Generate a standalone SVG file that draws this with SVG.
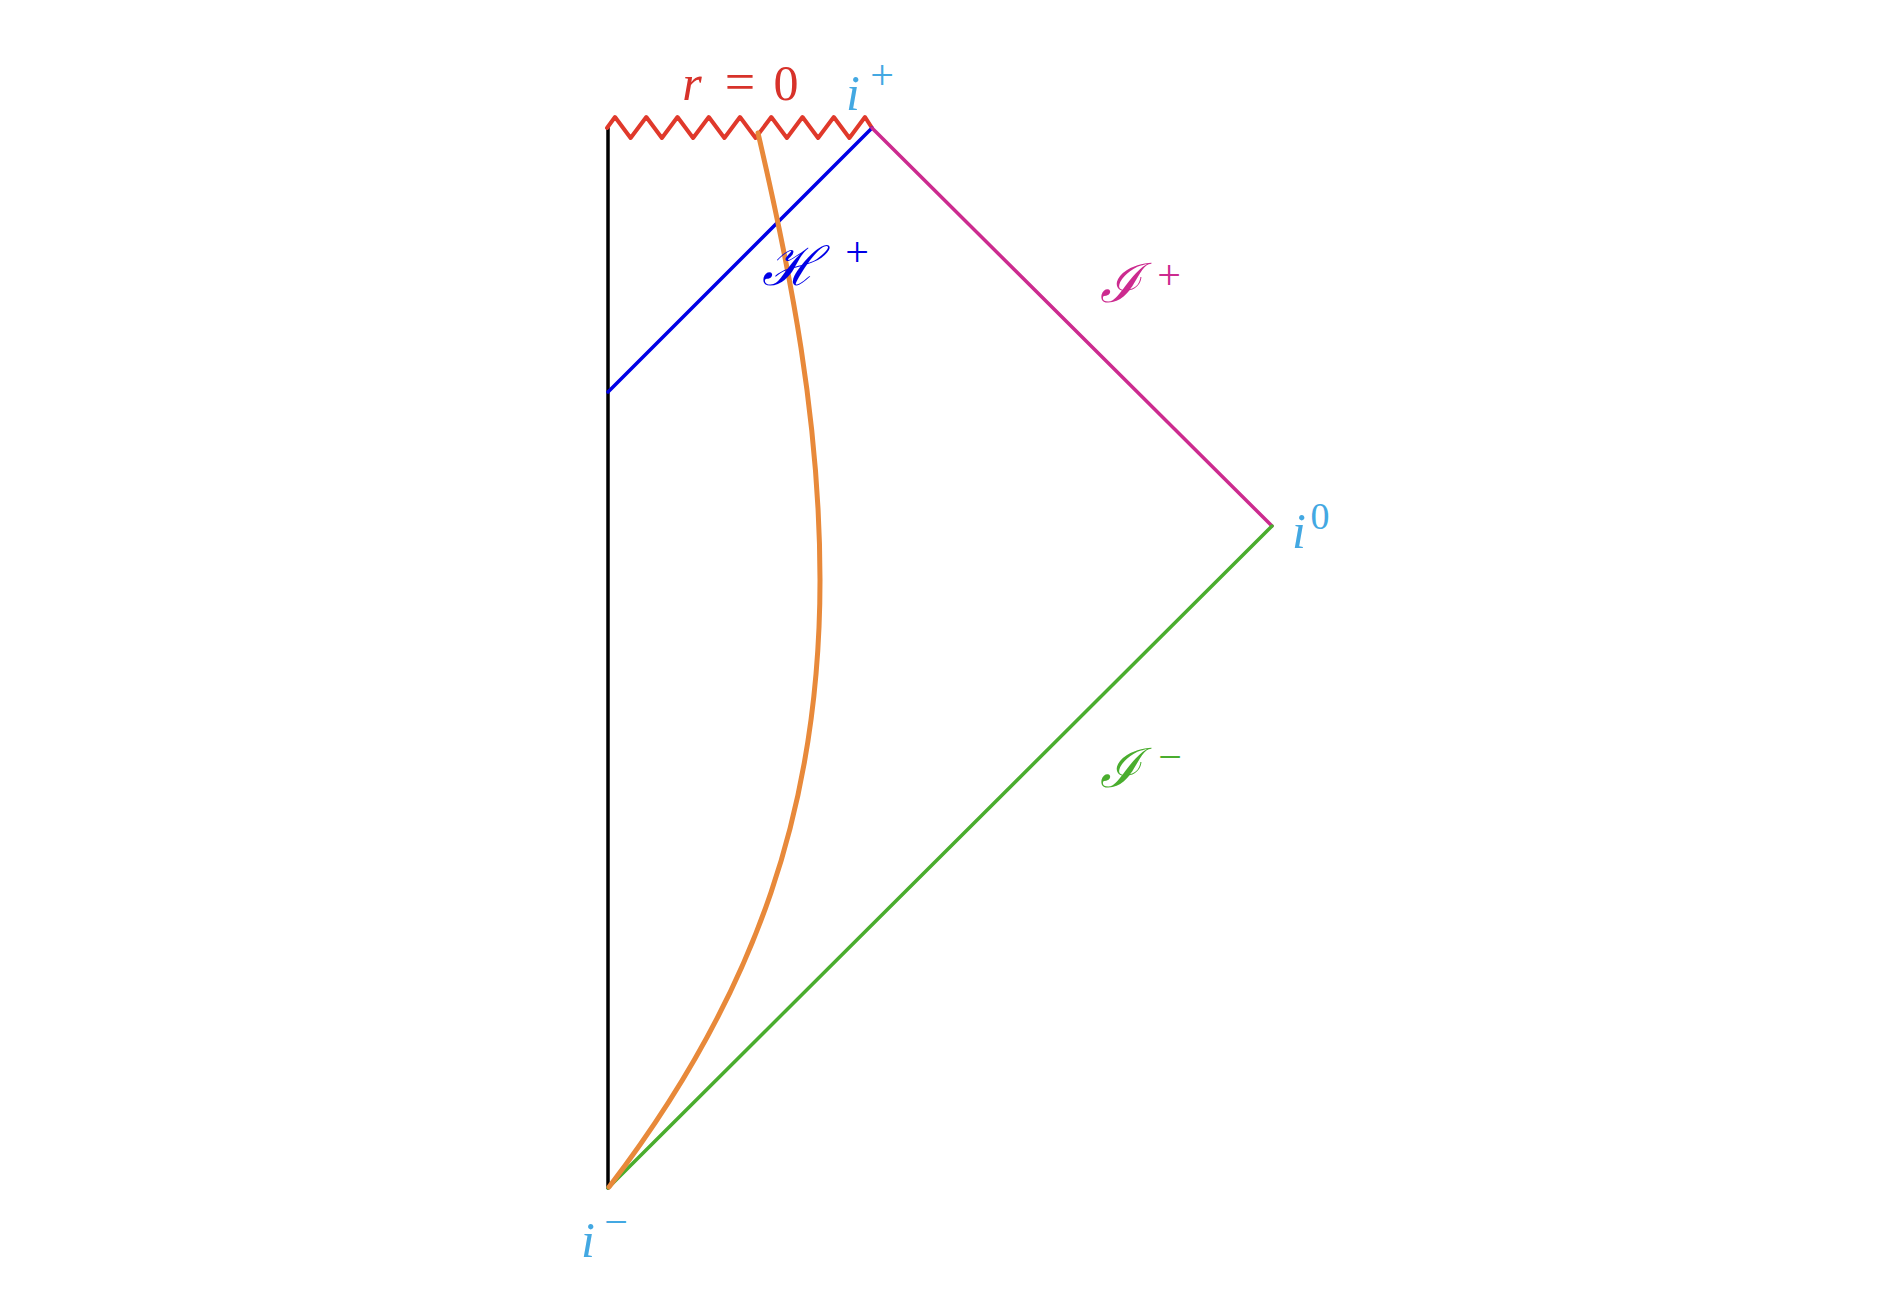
<svg xmlns="http://www.w3.org/2000/svg" width="1898" height="1303" viewBox="0 0 1898 1303">
<style>
.ln{fill:none;stroke-linecap:round;stroke-linejoin:round}
.t{font-family:"Liberation Serif","DejaVu Serif",serif;text-anchor:middle}
.it{font-style:italic}
.sc{font-family:"DejaVu Serif","Liberation Serif",serif;font-style:italic;text-anchor:middle}
.lb{fill:#43a8e2}
</style>
<rect width="1898" height="1303" fill="#ffffff"/>
<g id="connectors">
<line id="center" class="ln" x1="608" y1="128" x2="608" y2="1188" stroke="#000000" stroke-width="3.5"/>
<polyline id="singularity" class="ln" stroke="#e0392b" stroke-width="4" points="607,128 615,117 630.6,138 646.3,117 661.9,138 677.5,117 693.1,138 708.8,117 724.4,138 740,117 755.6,138 771.3,117 786.9,138 802.5,117 818.1,138 833.8,117 849.4,138 865,117 872,128"/>
<line id="horizon" class="ln" x1="608" y1="392" x2="872" y2="128" stroke="#0000e6" stroke-width="3.5"/>
<line id="scri-plus" class="ln" x1="872" y1="128" x2="1272" y2="526" stroke="#cc2b8f" stroke-width="3.5"/>
<line id="scri-minus" class="ln" x1="1272" y1="526" x2="608" y2="1188" stroke="#4aad2e" stroke-width="3.5"/>
<path id="worldline" class="ln" d="M758,133 C790,270 820,420 820,580 C820,800 760,990 609,1187" stroke="#e8893a" stroke-width="5"/>
</g>
<g id="label-r0" fill="#d7322a">
<text class="t it" x="692" y="100" font-size="50">r</text>
<text class="t" x="740" y="100" font-size="54">=</text>
<text class="t" x="786" y="100" font-size="50">0</text>
</g>
<g id="node-iplus" class="lb">
<text class="t it" x="853" y="110" font-size="50">i</text>
<text class="t" x="882" y="89" font-size="42">+</text>
</g>
<g id="node-i0" class="lb">
<text class="t it" x="1299" y="548" font-size="50">i</text>
<text class="t" x="1320" y="529" font-size="38">0</text>
</g>
<g id="node-iminus" class="lb">
<text class="t it" x="588" y="1257" font-size="50">i</text>
<text class="t" x="616" y="1236" font-size="42">−</text>
</g>
<g id="label-horizon" fill="#0000e6">
<text class="sc" x="790" y="285" font-size="54">ℋ</text>
<text class="t" x="857" y="266" font-size="42">+</text>
</g>
<g id="label-scri-plus" fill="#cc2b8f">
<text class="sc" x="1120" y="302" font-size="54">ℐ</text>
<text class="t" x="1169" y="289" font-size="42">+</text>
</g>
<g id="label-scri-minus" fill="#4aad2e">
<text class="sc" x="1120" y="787" font-size="54">ℐ</text>
<text class="t" x="1170" y="771" font-size="42">−</text>
</g>
</svg>
